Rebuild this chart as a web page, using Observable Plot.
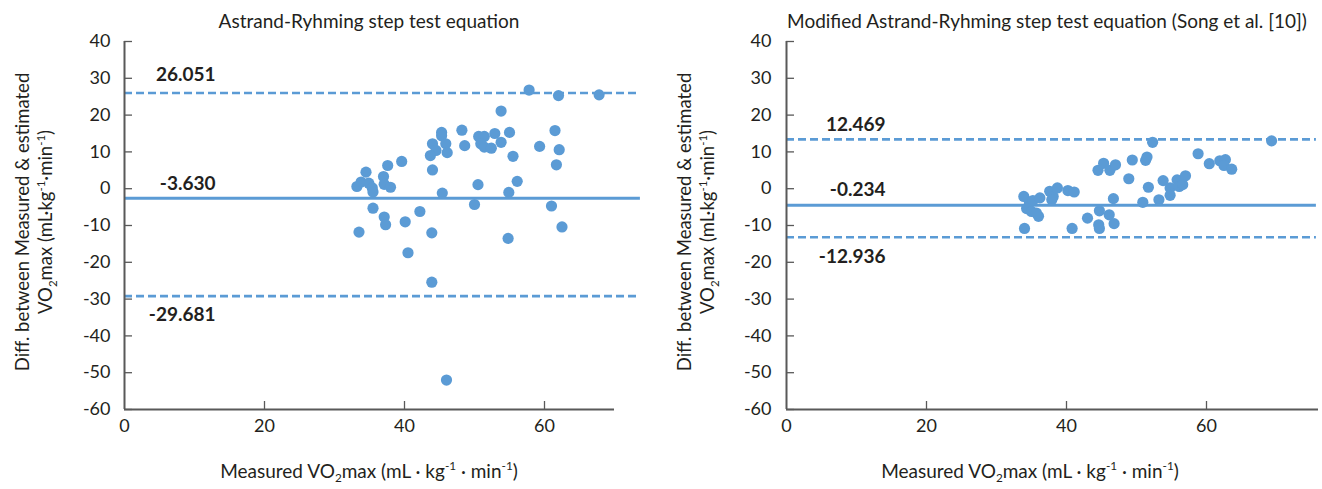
<!DOCTYPE html>
<html><head><meta charset="utf-8">
<script src="https://cdn.jsdelivr.net/npm/d3@7"></script>
<script src="https://cdn.jsdelivr.net/npm/@observablehq/plot@0.6"></script>
<style>
body{margin:0;background:#fff;font-family:Lato,"Noto Sans",sans-serif;color:#231f20}
#wrap{position:relative;width:1322px;height:489px;overflow:hidden}
.panel{position:absolute;top:0;width:661px;height:489px}
.panel svg{position:absolute;left:0;top:0}
.title,.xlab{position:absolute;white-space:nowrap;font-size:19px;transform:translate(-50%,-50%)}
.ylab{position:absolute;white-space:nowrap;font-size:18.5px;line-height:23px;text-align:center;transform:translate(-50%,-50%) rotate(-90deg)}
sub,sup{font-size:0.62em;line-height:0}
</style></head>
<body><div id="wrap"></div>
<script>
// ---- data ----
const leftTitle = "Astrand-Ryhming step test equation";
const rightTitle = "Modified Astrand-Ryhming step test equation (Song et al. [10])";
const xTicks = [0, 20, 40, 60];
const yTicks = [40, 30, 20, 10, 0, -10, -20, -30, -40, -50, -60];

const leftX = [57.8,62.0,67.8,53.8,45.3,45.3,48.2,50.6,51.4,52.9,55.0,61.5,44.0,45.9,48.6,50.9,51.4,52.4,53.8,59.3,62.1,44.5,43.7,46.1,55.5,61.7,39.6,37.6,44.0,34.5,37.0,33.2,33.8,34.9,35.4,35.5,37.1,38.0,45.4,50.5,54.9,56.1,50.0,61.0,35.5,37.1,37.3,40.1,42.2,33.5,43.9,62.5,54.8,40.5,43.9,46.0];
const leftDiff = [26.8,25.3,25.5,21.1,15.3,14.4,15.9,14.2,14.2,15.0,15.3,15.8,12.2,12.2,11.7,12.2,11.3,11.0,12.6,11.5,10.6,10.4,9.0,9.8,8.8,6.5,7.4,6.3,5.1,4.5,3.3,0.6,1.8,1.5,0.2,-0.9,1.2,0.4,-1.2,1.1,-1.0,2.0,-4.3,-4.7,-5.3,-7.7,-9.8,-9.0,-6.2,-11.8,-12.0,-10.4,-13.5,-17.4,-25.4,-52.0];

const rightX = [33.9,34.0,34.7,35.2,36.2,34.3,35.0,36.0,35.7,37.6,38.1,37.9,38.7,40.2,41.1,40.8,43.0,44.7,44.6,44.7,46.1,46.8,46.7,44.5,45.3,46.2,47.0,48.9,49.4,51.3,51.5,52.3,51.7,50.9,53.2,53.8,54.8,54.8,55.8,56.1,56.6,57.0,58.8,60.4,61.9,62.7,62.5,63.6,69.3];
const rightDiff = [-2.1,-10.8,-3.9,-3.2,-2.5,-5.4,-6.2,-7.5,-6.6,-0.7,-2.1,-3.0,0.2,-0.5,-0.9,-10.8,-8.0,-6.0,-9.8,-10.8,-7.1,-9.5,-2.7,5.0,6.9,5.0,6.5,2.7,7.8,7.7,8.6,12.6,0.4,-3.7,-3.0,2.2,0.2,-1.8,2.4,0.6,1.1,3.5,9.5,6.8,7.6,7.9,6.3,5.3,13.0];

// reference lines: [upper limit, mean, lower limit] as drawn, and their printed labels
const leftLineY = [26.0, -2.6, -29.2];
const leftLineLabel = ["26.051", "-3.630", "-29.681"];
const rightLineY = [13.4, -4.5, -13.2];
const rightLineLabel = ["12.469", "-0.234", "-12.936"];
const lineKind = ["dashed", "solid", "dashed"];

// ---- layout / style ----
const BLUE = "#5b9bd5";
const AXIS = "#595959";
const TXT = "#231f20";
const FONT = "Lato, 'Noto Sans', sans-serif";
const W = 661, H = 489, MT = 41, MB = 80;

function makePanel(cfg) {
  const innerW = W - cfg.ml - cfg.mr;
  const innerH = H - MT - MB;
  const pts = cfg.xs.map((x, i) => ({x, d: cfg.ds[i]}));
  const lines = cfg.lineY.map((v, i) => ({v, label: cfg.labels[i], kind: lineKind[i], dy: cfg.labelDy[i]}));
  const marks = [
    Plot.ruleY(lines.filter(l => l.kind === "dashed"), {y: "v", x1: 0, x2: cfg.lineEnd, stroke: BLUE, strokeWidth: 2.6, strokeDasharray: "8,4"}),
    Plot.ruleY(lines.filter(l => l.kind === "solid"), {y: "v", x1: 0, x2: cfg.lineEnd, stroke: BLUE, strokeWidth: 3.2}),
    Plot.ruleX([0], {stroke: AXIS, strokeWidth: 2}),
    Plot.ruleY([-60], {stroke: AXIS, strokeWidth: 2}),
    Plot.tickY(yTicks, {y: d => d, stroke: AXIS, strokeWidth: 1.3, insetRight: innerW - 8}),
    Plot.tickX(xTicks.filter(v => v > 0), {x: d => d, stroke: AXIS, strokeWidth: 1.3, insetTop: innerH - 8}),
    Plot.axisY({ticks: yTicks, tickSize: 0, tickPadding: cfg.yPad, tickFormat: d => String(d), label: null, fill: TXT, fontSize: 18}),
    Plot.axisX({ticks: xTicks, tickSize: 0, tickPadding: 10, tickFormat: d => String(d), label: null, fill: TXT, fontSize: 18}),
    Plot.dot(pts, {x: "x", y: "d", r: 5.6, fill: BLUE, stroke: "none"})
  ];
  lines.forEach(l => {
    marks.push(Plot.text([l], {y: "v", text: "label", frameAnchor: "left", textAnchor: "end", dx: cfg.labelDx, dy: l.dy, fontWeight: "bold", fontSize: 19, fill: TXT}));
  });
  return Plot.plot({
    width: W, height: H,
    marginLeft: cfg.ml, marginRight: cfg.mr, marginTop: MT, marginBottom: MB,
    x: {domain: cfg.xDomain, label: null},
    y: {domain: [-60, 40], label: null},
    style: {fontFamily: FONT, fontSize: "18px", color: TXT, background: "transparent", overflow: "visible"},
    marks
  });
}

const wrap = document.getElementById("wrap");
function addPanel(left, cfg, title, titleX, xlabX, ylabX) {
  const p = document.createElement("div");
  p.className = "panel";
  p.style.left = left + "px";
  p.appendChild(makePanel(cfg));
  const t = document.createElement("div");
  t.className = "title"; t.textContent = title;
  t.style.left = titleX + "px"; t.style.top = "20px";
  p.appendChild(t);
  const xl = document.createElement("div");
  xl.className = "xlab";
  xl.innerHTML = "Measured VO<sub>2</sub>max (mL · kg<sup>-1</sup> · min<sup>-1</sup>)";
  xl.style.left = xlabX + "px"; xl.style.top = "470px";
  p.appendChild(xl);
  const yl = document.createElement("div");
  yl.className = "ylab";
  yl.innerHTML = "Diff. between Measured &amp; estimated<br>VO<sub>2</sub>max (mL·kg<sup>-1</sup>·min<sup>-1</sup>)";
  yl.style.left = ylabX + "px"; yl.style.top = "222px";
  p.appendChild(yl);
  wrap.appendChild(p);
}

addPanel(0, {ml: 124, mr: 47, xDomain: [0, 70], lineEnd: 73.7, xs: leftX, ds: leftDiff,
  lineY: leftLineY, labels: leftLineLabel, labelDy: [-18, -14, 19], labelDx: 91, yPad: 14},
  leftTitle, 369, 369, 34);
addPanel(661, {ml: 125, mr: 4, xDomain: [0, 76], lineEnd: 75.7, xs: rightX, ds: rightDiff,
  lineY: rightLineY, labels: rightLineLabel, labelDy: [-14, -15, 20], labelDx: 99, yPad: 15},
  rightTitle, 386, 369, 35);
</script></body></html>
